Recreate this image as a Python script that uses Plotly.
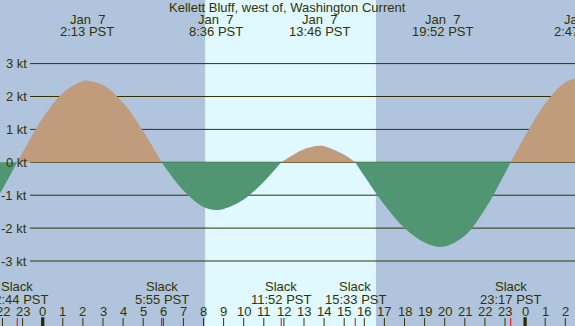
import plotly.graph_objects as go

# ---------------- data (hours from Jan 7 00:00 PST, knots) ----------------
hours = [-3.0, -2.5, -2.0, -1.267, -1.0, 0.0, 1.0, 2.0, 2.217, 3.0, 4.0, 5.0, 5.917,
         7.0, 8.0, 8.6, 9.0, 10.0, 11.0, 11.867, 13.0, 13.767, 14.0, 15.0, 15.55,
         16.0, 17.0, 18.0, 19.0, 19.867, 21.0, 22.0, 23.0, 23.283, 24.0, 25.0, 26.0,
         26.783, 27.0]
speeds = [-1.75, -1.31, -0.81, 0.0, 0.30, 1.34, 2.11, 2.47, 2.48, 2.35, 1.81, 0.94, 0.0,
          -0.86, -1.36, -1.45, -1.42, -1.13, -0.59, 0.0, 0.40, 0.50, 0.49, 0.23, 0.0,
          -0.42, -1.29, -2.00, -2.44, -2.57, -2.23, -1.43, -0.33, 0.0, 0.81, 1.78, 2.43,
          2.58, 2.57]

extreme_hours = [2.217, 8.6, 13.767, 19.867, 26.783]
extreme_dates = ["Jan  7", "Jan  7", "Jan  7", "Jan  7", "Jan  7"]
extreme_labels = ["2:13 PST", "8:36 PST", "13:46 PST", "19:52 PST", "2:47 PST"]

slack_hours = [-1.267, 5.917, 11.867, 15.55, 23.283]
slack_labels = ["22:44 PST", "5:55 PST", "11:52 PST", "15:33 PST", "23:17 PST"]

sunrise, sunset = 8.08, 16.58

tick_hours = list(range(-2, 27))
tick_labels = ["22", "23", "0", "1", "2", "3", "4", "5", "6", "7", "8", "9", "10", "11",
               "12", "13", "14", "15", "16", "17", "18", "19", "20", "21", "22", "23",
               "0", "1", "2"]
midnights = [0, 24]

kt_levels = [3, 2, 1, 0, -1, -2, -3]
kt_labels = ["3 kt", "2 kt", "1 kt", "0 kt", "-1 kt", "-2 kt", "-3 kt"]

title = "Kellett Bluff, west of, Washington Current"

# ---------------- styling ----------------
W, H = 575, 326
X_ZERO_PX, PX_PER_H = 42.7, 20.1
Y_ZERO_PX, PX_PER_KT = 162.3, 32.9
xmin = -X_ZERO_PX / PX_PER_H
xmax = (W - X_ZERO_PX) / PX_PER_H
ymax = Y_ZERO_PX / PX_PER_KT
ymin = -(H - Y_ZERO_PX) / PX_PER_KT

NIGHT = "#B0C4DE"
DAY = "#E0F8FF"
FLOOD = "#C09C7C"
EBB = "#509672"
INK = "#333300"
FONT = dict(family="Liberation Sans, Arial, sans-serif", size=13, color=INK)


def px_y(py):
    return 1 - py / H


def paper_x(h):
    return (h - xmin) / (xmax - xmin)


fig = go.Figure()

# split the curve into flood / ebb segments at the slack points
segments = []
cur_x, cur_y = [], []
for h, v in zip(hours, speeds):
    cur_x.append(h)
    cur_y.append(v)
    if v == 0 and len(cur_x) > 1:
        segments.append((cur_x, cur_y))
        cur_x, cur_y = [h], [v]
if len(cur_x) > 1:
    segments.append((cur_x, cur_y))

for sx, sy in segments:
    positive = max(sy, key=abs) > 0
    col = FLOOD if positive else EBB
    fig.add_trace(go.Scatter(
        x=sx, y=sy, mode="lines", line=dict(color=col, width=0, shape="spline", smoothing=1.0),
        fill="tozeroy", fillcolor=col, hoverinfo="skip", showlegend=False))

shapes = []
# daylight band
shapes.append(dict(type="rect", xref="x", yref="paper", x0=sunrise, x1=sunset, y0=0, y1=1,
                   fillcolor=DAY, line=dict(width=0), layer="below"))
# gridlines
for lv in kt_levels:
    shapes.append(dict(type="line", xref="paper", yref="y", x0=30 / W, x1=1, y0=lv, y1=lv,
                       line=dict(color=INK, width=1), layer="below"))
# hour ticks
for th in tick_hours:
    if th in midnights:
        shapes.append(dict(type="line", xref="x", yref="paper", x0=th, x1=th,
                           y0=0, y1=px_y(317.3), line=dict(color="#2a2a00", width=3.3)))
    else:
        shapes.append(dict(type="line", xref="x", yref="paper", x0=th, x1=th,
                           y0=0, y1=px_y(318), line=dict(color=INK, width=1)))
for sh in slack_hours:
    shapes.append(dict(type="line", xref="x", yref="paper", x0=sh, x1=sh,
                       y0=0, y1=px_y(318), line=dict(color="#FF0000", width=1)))

ann = []
ann.append(dict(text=title, xref="paper", yref="paper", x=0.5, y=px_y(7.5),
                xanchor="center", yanchor="middle", showarrow=False, font=FONT))
for h, d, t in zip(extreme_hours, extreme_dates, extreme_labels):
    ann.append(dict(text=d.replace(" ", "\u00a0"), xref="paper", yref="paper", x=paper_x(h),
                    y=px_y(19.1), xanchor="center", yanchor="middle", showarrow=False, font=FONT))
    ann.append(dict(text=t, xref="paper", yref="paper", x=paper_x(h), y=px_y(31.5),
                    xanchor="center", yanchor="middle", showarrow=False, font=FONT))
for h, t in zip(slack_hours, slack_labels):
    ann.append(dict(text="Slack", xref="paper", yref="paper", x=paper_x(h), y=px_y(286.8),
                    xanchor="center", yanchor="middle", showarrow=False, font=FONT))
    ann.append(dict(text=t, xref="paper", yref="paper", x=paper_x(h), y=px_y(299.1),
                    xanchor="center", yanchor="middle", showarrow=False, font=FONT))
for th, tl in zip(tick_hours, tick_labels):
    ann.append(dict(text=tl, xref="paper", yref="paper", x=paper_x(th), y=px_y(311.5),
                    xanchor="center", yanchor="middle", showarrow=False, font=FONT))
for lv, lt in zip(kt_levels, kt_labels):
    ann.append(dict(text=lt, xref="paper", yref="y", x=28.5 / W, y=lv,
                    xanchor="right", yanchor="middle", showarrow=False, font=FONT))

fig.update_layout(
    width=W, height=H, margin=dict(l=0, r=0, t=0, b=0, pad=0),
    paper_bgcolor=NIGHT, plot_bgcolor=NIGHT,
    xaxis=dict(range=[xmin, xmax], visible=False, fixedrange=True),
    yaxis=dict(range=[ymin, ymax], visible=False, fixedrange=True),
    shapes=shapes, annotations=ann, showlegend=False, font=FONT,
)

fig.write_html("out.html", config={"displayModeBar": False},
               post_script="document.body.style.margin='0px';document.body.style.overflow='hidden';")
